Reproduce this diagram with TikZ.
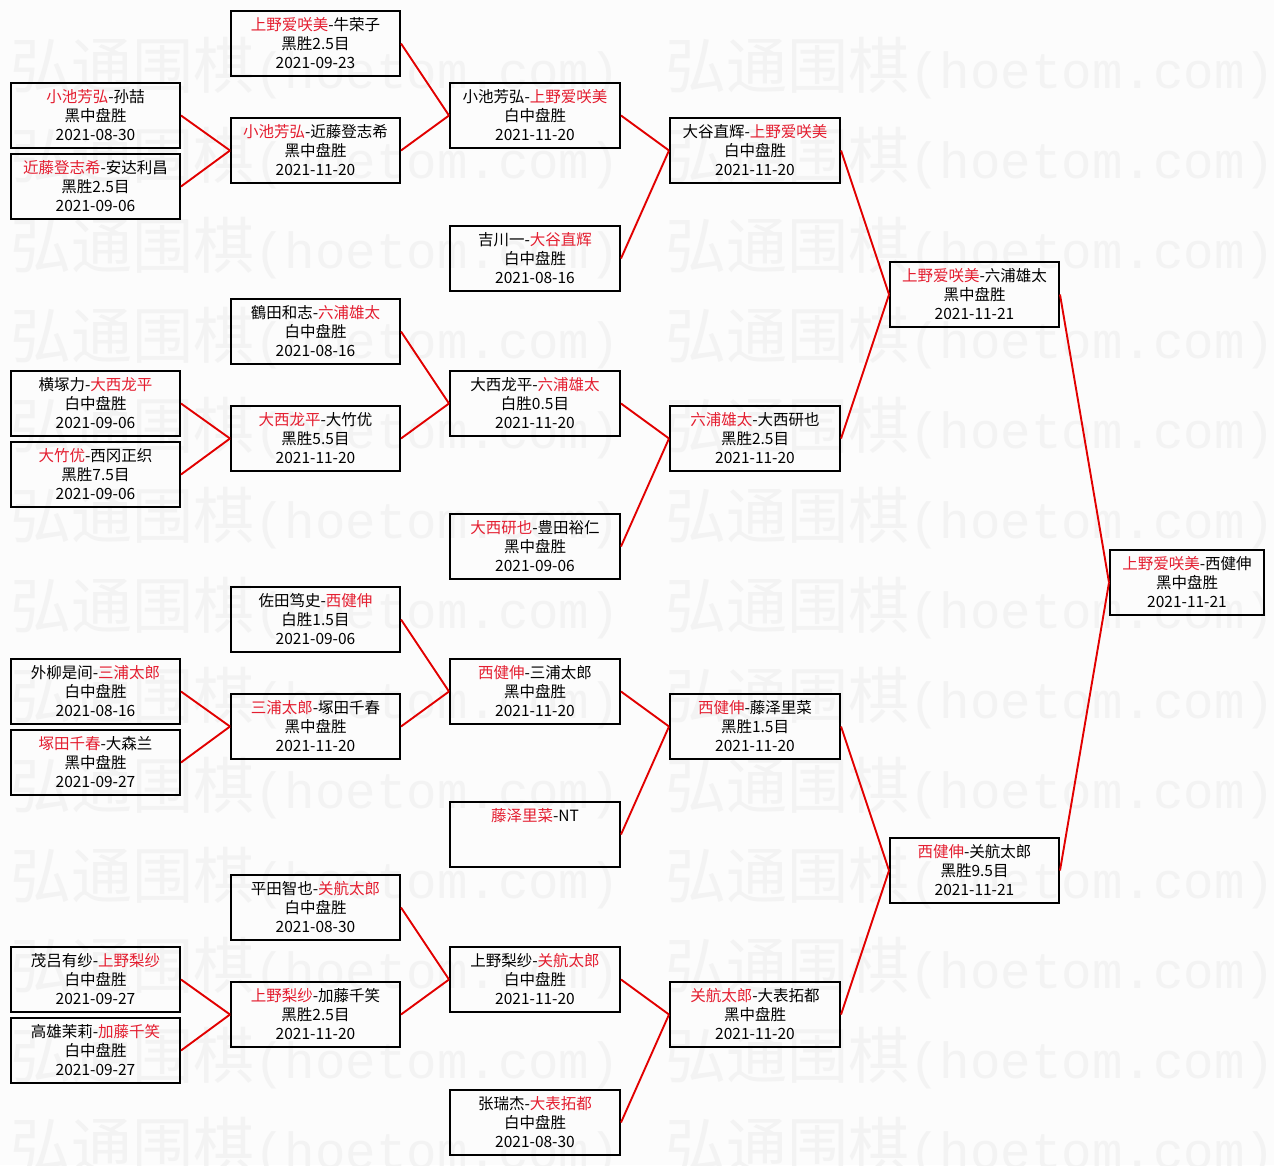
\documentclass[tikz,border=0pt]{standalone}
\usepackage{fontspec}
\setmainfont{Noto Sans CJK SC}
\newfontfamily\wmmono{Liberation Mono}
\newfontfamily\wmcjk{Noto Sans CJK SC}
\definecolor{wred}{RGB}{228,30,48}
\definecolor{lred}{RGB}{226,0,0}
\definecolor{wmgray}{RGB}{243,243,243}
\definecolor{bgc}{RGB}{252,252,252}
\newcommand{\win}[1]{\textcolor{wred}{#1}}
\newcommand{\wmtext}{{\wmcjk\fontsize{61pt}{61pt}\selectfont 弘通围棋}{\wmmono\fontsize{50.8pt}{51pt}\selectfont (hoetom.com)}}
\tikzset{
  gbox/.style={draw=black, line width=2pt, inner sep=0pt, minimum height=65pt, rectangle},
  gtxt/.style={anchor=base, inner sep=0pt, font=\fontsize{15.5pt}{19pt}\selectfont, text=black},
  conn/.style={draw=lred, line width=1.9pt},
  wm/.style={anchor=base west, inner sep=0pt, text=wmgray},
}
\newcommand{\game}[7]{%
  \node[gbox, minimum width=#4pt] (#1) at (#2,#3+32.5) {};
  \node[gtxt] (#1-l1) at (#2,#3+19.5) {#5};
  \node[gtxt] (#1-l2) at (#2,#3+38.5) {#6};
  \node[gtxt] (#1-l3) at (#2,#3+57.5) {#7};
}
\begin{document}
\begin{tikzpicture}[x=1pt,y=-1pt]
\useasboundingbox (0,0) rectangle (1274,1165);
\fill[bgc] (0,0) rectangle (1274,1165);
\begin{scope}
\clip (0,0) rectangle (1274,1165);
\foreach \k in {0,...,12}{
  \node[wm] (wmL\k) at (10,88+90*\k) {\wmtext};
  \node[wm] (wmR\k) at (665,88+90*\k) {\wmtext};
}
\end{scope}
% column 1
\game{A1}{95.5}{83}{169}{\win{小池芳弘}-孙喆}{黑中盘胜}{2021-08-30}
\game{A2}{95.5}{154}{169}{\win{近藤登志希}-安达利昌}{黑胜2.5目}{2021-09-06}
\game{A3}{95.5}{371}{169}{横塚力-\win{大西龙平}}{白中盘胜}{2021-09-06}
\game{A4}{95.5}{442}{169}{\win{大竹优}-西冈正织}{黑胜7.5目}{2021-09-06}
\game{A5}{95.5}{659}{169}{外柳是间-\win{三浦太郎}}{白中盘胜}{2021-08-16}
\game{A6}{95.5}{730}{169}{\win{塚田千春}-大森兰}{黑中盘胜}{2021-09-27}
\game{A7}{95.5}{947}{169}{茂吕有纱-\win{上野梨纱}}{白中盘胜}{2021-09-27}
\game{A8}{95.5}{1018}{169}{高雄茉莉-\win{加藤千笑}}{白中盘胜}{2021-09-27}
% column 2
\game{B1}{315.5}{11}{169}{\win{上野爱咲美}-牛荣子}{黑胜2.5目}{2021-09-23}
\game{B2}{315.5}{118}{169}{\win{小池芳弘}-近藤登志希}{黑中盘胜}{2021-11-20}
\game{B3}{315.5}{299}{169}{鶴田和志-\win{六浦雄太}}{白中盘胜}{2021-08-16}
\game{B4}{315.5}{406}{169}{\win{大西龙平}-大竹优}{黑胜5.5目}{2021-11-20}
\game{B5}{315.5}{587}{169}{佐田笃史-\win{西健伸}}{白胜1.5目}{2021-09-06}
\game{B6}{315.5}{694}{169}{\win{三浦太郎}-塚田千春}{黑中盘胜}{2021-11-20}
\game{B7}{315.5}{875}{169}{平田智也-\win{关航太郎}}{白中盘胜}{2021-08-30}
\game{B8}{315.5}{982}{169}{\win{上野梨纱}-加藤千笑}{黑胜2.5目}{2021-11-20}
% column 3
\game{C1}{535}{83}{170}{小池芳弘-\win{上野爱咲美}}{白中盘胜}{2021-11-20}
\game{C2}{535}{226}{170}{吉川一-\win{大谷直辉}}{白中盘胜}{2021-08-16}
\game{C3}{535}{371}{170}{大西龙平-\win{六浦雄太}}{白胜0.5目}{2021-11-20}
\game{C4}{535}{514}{170}{\win{大西研也}-豊田裕仁}{黑中盘胜}{2021-09-06}
\game{C5}{535}{659}{170}{\win{西健伸}-三浦太郎}{黑中盘胜}{2021-11-20}
\node[gbox, minimum width=170pt] (C6) at (535,802+32.5) {};
\node[gtxt] (C6-l1) at (535,802+19.5) {\win{藤泽里菜}-NT};
\game{C7}{535}{947}{170}{上野梨纱-\win{关航太郎}}{白中盘胜}{2021-11-20}
\game{C8}{535}{1090}{170}{张瑞杰-\win{大表拓都}}{白中盘胜}{2021-08-30}
% column 4
\game{D1}{755}{118}{170}{大谷直辉-\win{上野爱咲美}}{白中盘胜}{2021-11-20}
\game{D2}{755}{406}{170}{\win{六浦雄太}-大西研也}{黑胜2.5目}{2021-11-20}
\game{D3}{755}{694}{170}{\win{西健伸}-藤泽里菜}{黑胜1.5目}{2021-11-20}
\game{D4}{755}{982}{170}{\win{关航太郎}-大表拓都}{黑中盘胜}{2021-11-20}
% column 5
\game{E1}{974.5}{262}{169}{\win{上野爱咲美}-六浦雄太}{黑中盘胜}{2021-11-21}
\game{E2}{974.5}{838}{169}{\win{西健伸}-关航太郎}{黑胜9.5目}{2021-11-21}
% column 6
\game{F}{1187}{550}{154}{\win{上野爱咲美}-西健伸}{黑中盘胜}{2021-11-21}
% connectors
\foreach \s/\t in {A1/B2,A2/B2,A3/B4,A4/B4,A5/B6,A6/B6,A7/B8,A8/B8,
  B1/C1,B2/C1,B3/C3,B4/C3,B5/C5,B6/C5,B7/C7,B8/C7,
  C1/D1,C2/D1,C3/D2,C4/D2,C5/D3,C6/D3,C7/D4,C8/D4,
  D1/E1,D2/E1,D3/E2,D4/E2,E1/F,E2/F}{
  \draw[conn] (\s.east) -- (\t.west);
}
\end{tikzpicture}
\end{document}
